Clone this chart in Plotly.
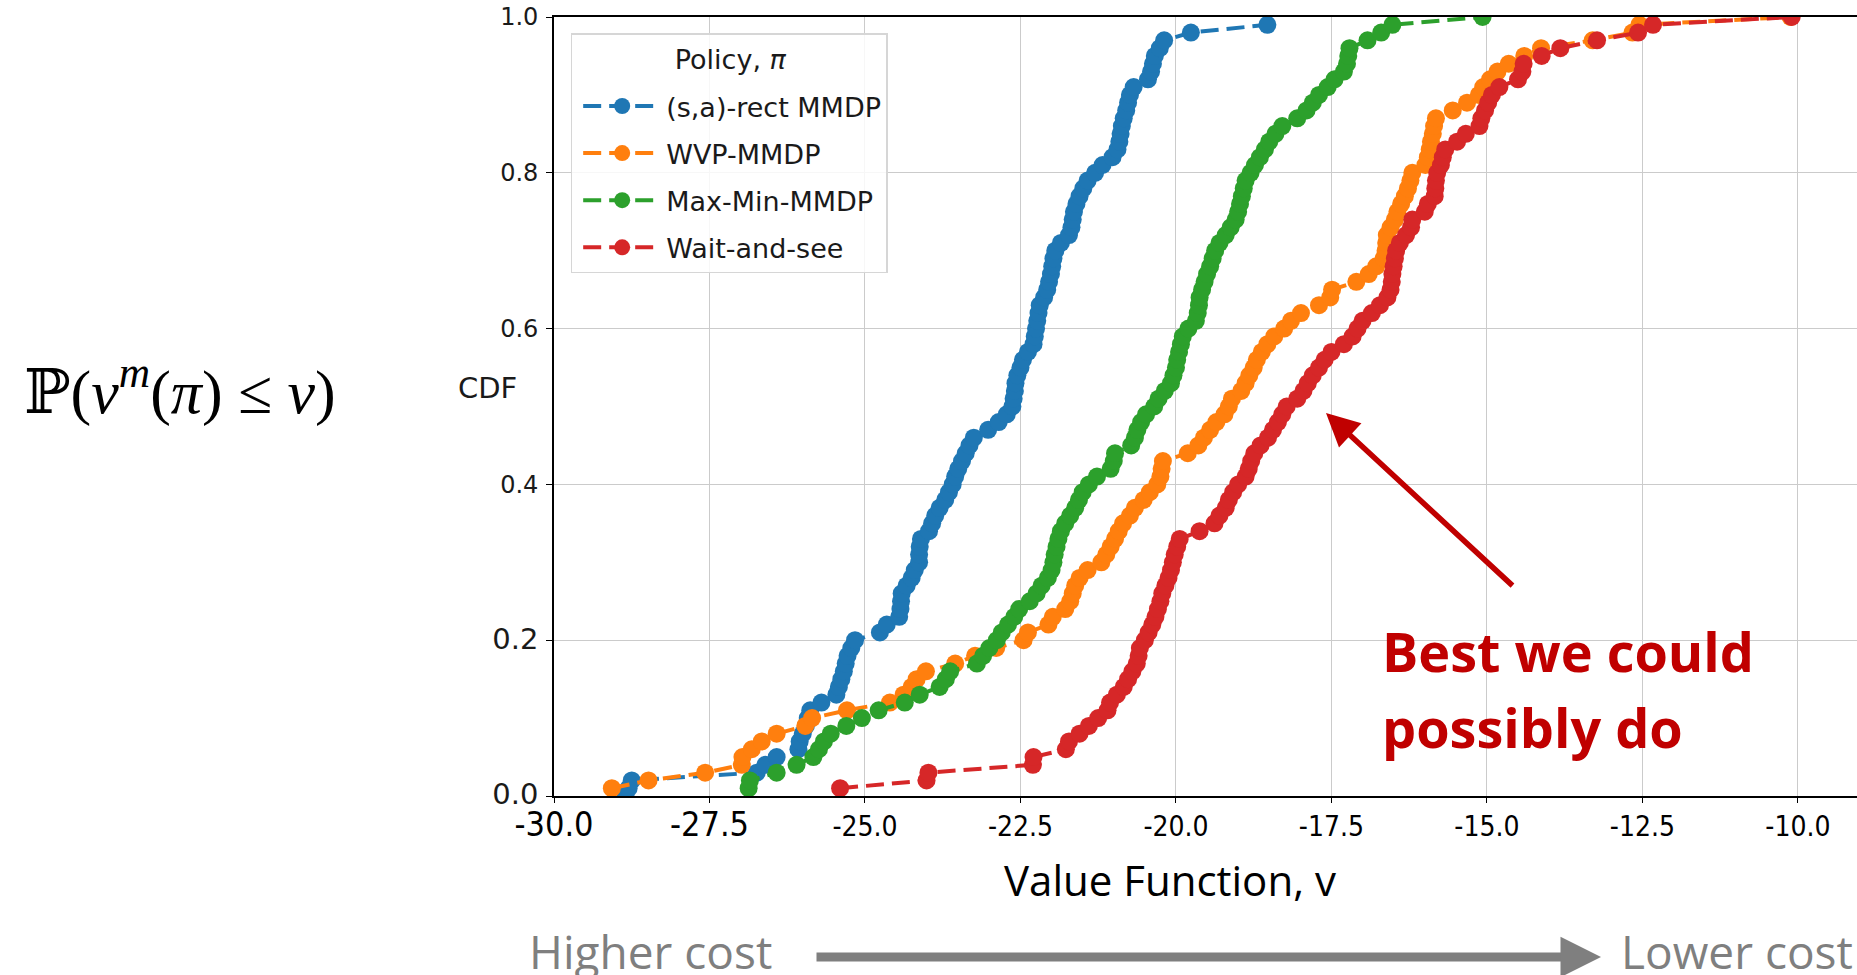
import numpy as np
import plotly.graph_objects as go

# ---------------- data (sorted sample values) ----------------
series_names = ["(s,a)-rect MMDP", "WVP-MMDP", "Max-Min-MMDP", "Wait-and-see"]
series_colors = ["#1f77b4", "#ff7f0e", "#2ca02c", "#d62728"]
legend_title = "\u00a0Policy, <i>π</i>"

rect_mmdp = [
    -28.85, -28.80, -28.75, -26.74, -26.60, -26.42, -26.07, -26.05, -26.00, -25.95,
    -25.92, -25.88, -25.70, -25.46, -25.42, -25.38, -25.34, -25.31, -25.28, -25.22,
    -25.16, -24.76, -24.65, -24.45, -24.43, -24.42, -24.41, -24.33, -24.25, -24.20,
    -24.13, -24.13, -24.12, -24.10, -23.97, -23.92, -23.87, -23.80, -23.71, -23.65,
    -23.59, -23.55, -23.50, -23.44, -23.38, -23.32, -23.25, -23.02, -22.85, -22.72,
    -22.63, -22.61, -22.59, -22.58, -22.55, -22.50, -22.46, -22.38, -22.29, -22.27,
    -22.25, -22.23, -22.21, -22.19, -22.12, -22.07, -22.04, -22.01, -21.99, -21.97,
    -21.94, -21.85, -21.72, -21.68, -21.66, -21.64, -21.60, -21.55, -21.49, -21.42,
    -21.30, -21.18, -21.02, -20.94, -20.91, -20.89, -20.87, -20.84, -20.80, -20.77,
    -20.74, -20.68, -20.45, -20.40, -20.37, -20.34, -20.26, -20.19, -19.76, -18.53,
]
wvp_mmdp = [
    -29.07, -28.48, -27.57, -26.98, -26.97, -26.82, -26.66, -26.42, -25.96, -25.85,
    -25.29, -24.60, -24.38, -24.25, -24.17, -24.02, -23.55, -23.23, -22.89, -22.45,
    -22.38, -22.05, -21.98, -21.78, -21.70, -21.66, -21.62, -21.55, -21.42, -21.20,
    -21.12, -21.05, -20.98, -20.92, -20.85, -20.74, -20.66, -20.52, -20.42, -20.30,
    -20.25, -20.23, -20.21, -19.81, -19.64, -19.55, -19.45, -19.35, -19.22, -19.15,
    -19.10, -18.95, -18.88, -18.82, -18.75, -18.70, -18.62, -18.53, -18.42, -18.26,
    -18.15, -17.99, -17.70, -17.52, -17.49, -17.10, -16.90, -16.78, -16.66, -16.63,
    -16.62, -16.61, -16.55, -16.48, -16.44, -16.38, -16.32, -16.27, -16.23, -16.20,
    -15.99, -15.95, -15.92, -15.90, -15.87, -15.85, -15.82, -15.55, -15.32, -15.13,
    -15.06, -14.95, -14.83, -14.65, -14.40, -14.13, -13.30, -12.66, -12.55, -10.12,
]
maxmin_mmdp = [
    -26.87, -26.85, -26.42, -26.10, -25.83, -25.74, -25.66, -25.55, -25.30, -25.05,
    -24.78, -24.36, -24.12, -23.80, -23.70, -23.63, -23.20, -23.10, -23.00, -22.88,
    -22.80, -22.70, -22.60, -22.52, -22.35, -22.24, -22.16, -22.06, -22.00, -21.97,
    -21.95, -21.92, -21.89, -21.85, -21.78, -21.70, -21.62, -21.56, -21.50, -21.40,
    -21.27, -21.05, -21.00, -20.98, -20.72, -20.66, -20.62, -20.56, -20.48, -20.35,
    -20.28, -20.18, -20.08, -20.04, -20.00, -19.98, -19.95, -19.92, -19.89, -19.80,
    -19.68, -19.65, -19.63, -19.62, -19.58, -19.54, -19.50, -19.45, -19.41, -19.37,
    -19.30, -19.20, -19.12, -19.04, -19.00, -18.97, -18.94, -18.91, -18.88, -18.80,
    -18.73, -18.65, -18.57, -18.50, -18.40, -18.29, -18.05, -17.90, -17.80, -17.70,
    -17.56, -17.45, -17.30, -17.25, -17.23, -17.21, -16.92, -16.70, -16.52, -15.07,
]
wait_and_see = [
    -25.40, -24.01, -23.98, -22.30, -22.29, -21.77, -21.72, -21.55, -21.40, -21.25,
    -21.10, -21.06, -20.95, -20.84, -20.77, -20.70, -20.63, -20.60, -20.58, -20.50,
    -20.44, -20.38, -20.33, -20.29, -20.25, -20.22, -20.17, -20.12, -20.08, -20.05,
    -20.02, -19.98, -19.94, -19.62, -19.38, -19.30, -19.20, -19.15, -19.08, -19.00,
    -18.88, -18.83, -18.79, -18.74, -18.64, -18.52, -18.44, -18.36, -18.29, -18.22,
    -18.05, -17.95, -17.88, -17.80, -17.70, -17.61, -17.50, -17.30, -17.16, -17.08,
    -17.00, -16.85, -16.72, -16.60, -16.55, -16.53, -16.52, -16.50, -16.48, -16.46,
    -16.40, -16.30, -16.22, -16.20, -16.00, -15.95, -15.84, -15.83, -15.82, -15.80,
    -15.74, -15.71, -15.67, -15.48, -15.34, -15.12, -15.09, -15.03, -14.98, -14.92,
    -14.80, -14.50, -14.43, -14.41, -14.12, -13.82, -13.23, -12.57, -12.33, -10.10,
]
# first CDF level of each series (the blue curve starts at 0.0, the others at 1/100)
cdf_first_level = [0, 1, 1, 1]
n_runs = 100

x_tick_vals = [-30.0, -27.5, -25.0, -22.5, -20.0, -17.5, -15.0, -12.5, -10.0]
x_tick_labels = ["-30.0", "-27.5", "-25.0", "-22.5", "-20.0", "-17.5", "-15.0", "-12.5", "-10.0"]
y_tick_vals = [0.0, 0.2, 0.4, 0.6, 0.8, 1.0]
y_tick_labels = ["0.0", "0.2", "0.4", "0.6", "0.8", "1.0"]
big_x_labels = ["-30.0", "-27.5"]
big_y_labels = ["0.0", "0.2"]

# ---------------- figure ----------------
W, H = 1857, 975
L, R, T, B = 554, 0, 17, 179
TICK_FONT = "DejaVu Sans Condensed, DejaVu Sans"
SLIDE_FONT = "Open Sans"

fig = go.Figure()
# legend heading entry (no marks)
fig.add_trace(go.Scatter(
    x=[None], y=[None], mode="markers", name=legend_title, legendgroup="title",
    marker=dict(color="rgba(0,0,0,0)", size=1), hoverinfo="skip",
))
all_series = [rect_mmdp, wvp_mmdp, maxmin_mmdp, wait_and_see]
for i, (vals, name, col, k0) in enumerate(zip(all_series, series_names, series_colors, cdf_first_level)):
    xs = np.sort(np.array(vals))
    ys = (np.arange(len(xs)) + k0) / n_runs
    fig.add_trace(go.Scatter(
        x=xs, y=ys, mode="lines+markers", name=name, legendgroup=f"g{i}",
        line=dict(color=col, width=4, dash="18px,8px"),
        marker=dict(color=col, size=18, line=dict(width=0)),
        cliponaxis=True,
    ))

def fmt(lbl, big, size):
    return f'<span style="font-size:{size}px">{lbl}</span>' if lbl in big else lbl

fig.update_layout(
    width=W, height=H,
    margin=dict(l=L, r=R, t=T, b=B, pad=0),
    paper_bgcolor="white", plot_bgcolor="white",
    showlegend=True,
    legend=dict(
        x=0.0128, y=0.979, xanchor="left", yanchor="top",
        bgcolor="rgba(255,255,255,0.85)", bordercolor="#d6d6d6", borderwidth=1.5,
        font=dict(family="DejaVu Sans", size=27, color="#1a1a1a"),
        itemwidth=78, tracegroupgap=9, indentation=6,
    ),
    xaxis=dict(
        range=[-30, -9.05], showgrid=True, gridcolor="#cbcbcb", gridwidth=1.3,
        zeroline=False, showline=True, linecolor="black", linewidth=1.6, mirror=True,
        ticks="outside", ticklen=5, tickwidth=1.4, tickcolor="black",
        tickvals=x_tick_vals,
        ticktext=[fmt(t, big_x_labels, 34) for t in x_tick_labels],
        tickfont=dict(family=TICK_FONT, size=28, color="black"),
    ),
    yaxis=dict(
        range=[0, 1.0], showgrid=True, gridcolor="#cbcbcb", gridwidth=1.3,
        zeroline=False, showline=True, linecolor="black", linewidth=1.6, mirror=False,
        ticks="outside", ticklen=6, tickwidth=1.4, tickcolor="black",
        ticklabelstandoff=3,
        tickvals=y_tick_vals,
        ticktext=[fmt(t, big_y_labels, 29) for t in y_tick_labels],
        tickfont=dict(family="DejaVu Sans", size=24, color="#1a1a1a"),
    ),
)

def px(xp):
    return (xp - L) / (W - L - R)

def py(yp):
    return (H - B - yp) / (H - T - B)

# axis titles / slide text
fig.add_annotation(x=px(1170), y=py(879), xref="paper", yref="paper", showarrow=False,
                   text="Value Function, v", font=dict(family=SLIDE_FONT, size=42, color="black"),
                   xanchor="center", yanchor="middle")
fig.add_annotation(x=px(487), y=py(388), xref="paper", yref="paper", showarrow=False,
                   text="CDF", font=dict(family="DejaVu Sans", size=29, color="#1a1a1a"),
                   xanchor="center", yanchor="middle")
fig.add_annotation(x=px(180), y=py(388), xref="paper", yref="paper", showarrow=False,
                   text="ℙ(<i>v</i><sup><i>m</i></sup>(<i>π</i>) ≤ <i>v</i>)",
                   font=dict(family="Liberation Serif, DejaVu Serif", size=62, color="black"),
                   xanchor="center", yanchor="middle")

# "Best we could possibly do" callout
fig.add_annotation(x=px(1380), y=py(651), xref="paper", yref="paper", showarrow=False,
                   text="<b>Best we could</b>", font=dict(family=SLIDE_FONT, size=54, color="#C00000"),
                   xanchor="left", yanchor="middle")
fig.add_annotation(x=px(1380), y=py(727), xref="paper", yref="paper", showarrow=False,
                   text="<b>possibly do</b>", font=dict(family=SLIDE_FONT, size=54, color="#C00000"),
                   xanchor="left", yanchor="middle")
fig.add_annotation(x=px(1326), y=py(413), xref="paper", yref="paper", text="",
                   showarrow=True, arrowhead=2, arrowsize=1.2, arrowwidth=5.5, arrowcolor="#C00000",
                   ax=188, ay=174, axref="pixel", ayref="pixel", standoff=0)

# cost direction arrow
fig.add_annotation(x=px(650), y=py(951), xref="paper", yref="paper", showarrow=False,
                   text="Higher cost", font=dict(family=SLIDE_FONT, size=46, color="#7f7f7f"),
                   xanchor="center", yanchor="middle")
fig.add_annotation(x=px(1619), y=py(951), xref="paper", yref="paper", showarrow=False,
                   text="Lower cost", font=dict(family=SLIDE_FONT, size=46, color="#7f7f7f"),
                   xanchor="left", yanchor="middle")
fig.add_annotation(x=px(1601), y=py(957), xref="paper", yref="paper", text="",
                   showarrow=True, arrowhead=2, arrowsize=0.9, arrowwidth=9, arrowcolor="#7f7f7f",
                   ax=-786, ay=0, axref="pixel", ayref="pixel", standoff=0)

fig.write_html("out.html", config={"displayModeBar": False},
               post_script="document.body.style.margin='0';document.body.style.overflow='hidden';")
